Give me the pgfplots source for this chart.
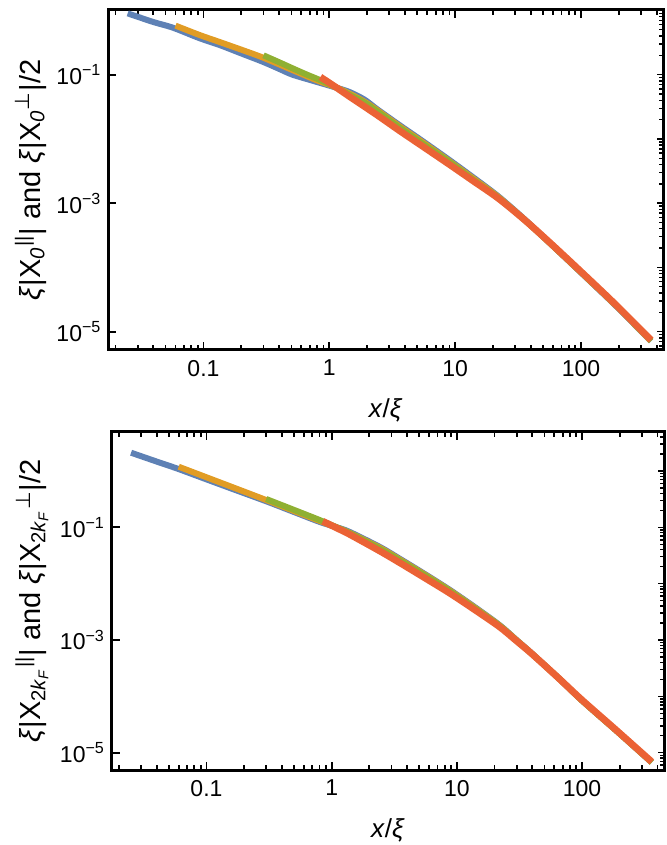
\documentclass[border=0pt]{standalone}
\usepackage{fontspec}
\setmainfont{Liberation Sans}
\newfontfamily\dejavu{DejaVu Sans}
\usepackage{pgfplots}
\pgfplotsset{compat=1.18}

\definecolor{mblue}{RGB}{94,129,181}
\definecolor{morange}{RGB}{225,156,36}
\definecolor{mgreen}{RGB}{143,176,50}
\definecolor{mred}{RGB}{235,98,53}

\newcommand{\tfont}{\fontsize{11.5}{13}\selectfont}
\newcommand{\xfont}{\fontsize{13}{15}\selectfont}
\newcommand{\yfont}{\fontsize{14.5}{17}\selectfont}

\begin{document}
\begin{tikzpicture}
\path[use as bounding box] (0,0) rectangle (333pt,422.5pt);

% ---- top panel ----
\begin{axis}[at={(54.25pt,247.5pt)}, anchor=south west,
  scale only axis, width=277.25pt, height=170pt,
  xmode=log, ymode=log,
  xmin=0.0176, xmax=448, ymin=5.19e-6, ymax=1.016,
  axis line style={line width=1.5pt},
  tick style={black, line width=0.9pt},
  major tick length=4pt, minor tick length=2.5pt, tick align=inside,
  xtick={0.1,1,10,100}, xticklabels={0.1,1,10,100},
  minor xtick={0.02,0.03,0.04,0.05,0.06,0.07,0.08,0.09,0.2,0.3,0.4,0.5,0.6,0.7,0.8,0.9,
    2,3,4,5,6,7,8,9,20,30,40,50,60,70,80,90,200,300,400},
  ytick={1e-5,1e-3,1e-1},
  yticklabels={10\textsuperscript{−5},10\textsuperscript{−3},10\textsuperscript{−1}},
  ytick pos=left,
  xticklabel style={font=\tfont, yshift=-1.5pt}, yticklabel style={font=\tfont},
  xlabel style={font=\xfont, at={(axis description cs:0.5,0)}, anchor=center, yshift=-30pt},
  ylabel style={font=\yfont, at={(axis description cs:0,0.5)}, anchor=center, yshift=39pt},
  xlabel={\textit{x}/\textit{ξ}},
  ylabel={\textit{ξ}|X\textsubscript{\textit{0}}\textsuperscript{||}| and \textit{ξ}|X\textsubscript{\textit{0}}\textsuperscript{\dejavu ⊥}|/2}]
\addplot[mblue, line width=3pt, smooth] coordinates {
(0.025,0.90) (0.04,0.66) (0.057,0.54) (0.093,0.37) (0.134,0.29) (0.2,0.214)
(0.296,0.159) (0.4,0.123) (0.51,0.10) (0.78,0.078) (1.1,0.064) (1.44,0.054)
(1.9,0.041) (2.4,0.029) (3.6,0.0165) (5.5,0.0093) (9,0.0047) (14,0.0025)
(22,0.00128) (35,0.00058) (55,0.000252) (100,8.3e-5) (190,2.5e-5) (360,7.1e-6)};
\addplot[morange, line width=3pt, smooth] coordinates {
(0.06,0.58) (0.093,0.415) (0.13,0.33) (0.2,0.245) (0.296,0.185) (0.5,0.12)
(0.78,0.083) (1.1,0.065) (1.44,0.051) (1.9,0.038) (2.4,0.028) (3.6,0.0158)
(5.5,0.0089) (9,0.0045) (14,0.0024) (22,0.00125) (35,0.00057) (55,0.000252)
(100,8.4e-5) (190,2.55e-5) (360,7.2e-6)};
\addplot[mgreen, line width=3pt, smooth] coordinates {
(0.3,0.20) (0.4,0.156) (0.5,0.128) (0.65,0.102) (0.85,0.082) (1.1,0.065)
(1.44,0.049) (1.9,0.037) (2.4,0.027) (3.6,0.0152) (5.5,0.0085) (9,0.0044)
(14,0.0023) (22,0.00122) (35,0.000565) (55,0.000252) (100,8.4e-5)
(190,2.55e-5) (360,7.2e-6)};
\addplot[mred, line width=3.4pt, smooth] coordinates {
(0.85,0.092) (1.1,0.066) (1.44,0.046) (2.4,0.0235) (3.6,0.0135) (5.5,0.0077)
(9,0.0040) (14,0.0022) (22,0.00119) (35,0.000565) (55,0.000256) (100,8.6e-5)
(190,2.6e-5) (360,7.4e-6)};
\end{axis}
% right-hand frame ticks (top panel)
\begin{axis}[at={(54.25pt,247.5pt)}, anchor=south west,
  scale only axis, width=277.25pt, height=170pt,
  xmode=log, ymode=log,
  xmin=0.0176, xmax=448, ymin=5.19e-6, ymax=1.016,
  axis line style={draw=none},
  tick style={black, line width=0.7pt},
  major tick length=3pt, minor tick length=2pt, tick align=inside,
  xtick=\empty, ytick pos=right, yticklabels={},
  ytick={1e-5,1e-4,1e-3,1e-2,1e-1},
  minor ytick={6e-6,7e-6,8e-6,9e-6,
    2e-5,3e-5,4e-5,5e-5,6e-5,7e-5,8e-5,9e-5,
    2e-4,3e-4,4e-4,5e-4,6e-4,7e-4,8e-4,9e-4,
    2e-3,3e-3,4e-3,5e-3,6e-3,7e-3,8e-3,9e-3,
    2e-2,3e-2,4e-2,5e-2,6e-2,7e-2,8e-2,9e-2,
    0.2,0.3,0.4,0.5,0.6,0.7,0.8,0.9}]
\end{axis}

% ---- bottom panel ----
\begin{axis}[at={(56pt,37.5pt)}, anchor=south west,
  scale only axis, width=276pt, height=169.15pt,
  xmode=log, ymode=log,
  xmin=0.0176, xmax=451, ymin=4.93e-6, ymax=4.98,
  axis line style={line width=1.5pt},
  tick style={black, line width=0.9pt},
  major tick length=4pt, minor tick length=2.5pt, tick align=inside,
  xtick={0.1,1,10,100}, xticklabels={0.1,1,10,100},
  minor xtick={0.02,0.03,0.04,0.05,0.06,0.07,0.08,0.09,0.2,0.3,0.4,0.5,0.6,0.7,0.8,0.9,
    2,3,4,5,6,7,8,9,20,30,40,50,60,70,80,90,200,300,400},
  ytick={1e-5,1e-3,1e-1},
  yticklabels={10\textsuperscript{−5},10\textsuperscript{−3},10\textsuperscript{−1}},
  ytick pos=left,
  xticklabel style={font=\tfont, yshift=-1.5pt}, yticklabel style={font=\tfont},
  xlabel style={font=\xfont, at={(axis description cs:0.5,0)}, anchor=center, yshift=-30pt},
  ylabel style={font=\yfont, at={(axis description cs:0,0.5)}, anchor=center, yshift=40pt},
  xlabel={\textit{x}/\textit{ξ}},
  ylabel={\textit{ξ}|X\textsubscript{2\textit{k}\textsubscript{\textit{F}}}\textsuperscript{||}| and \textit{ξ}|X\textsubscript{2\textit{k}\textsubscript{\textit{F}}}\textsuperscript{\dejavu ⊥}|/2}]
\addplot[mblue, line width=3pt, smooth] coordinates {
(0.025,2.11) (0.04,1.47) (0.058,1.11) (0.1,0.71) (0.17,0.46) (0.3,0.29)
(0.5,0.187) (0.8,0.125) (1.1,0.10) (1.39,0.083) (2.42,0.045) (3.5,0.0277)
(5.5,0.0150) (8.75,0.0078) (14,0.0038) (22,0.00183) (30,0.001) (40,0.00057)
(65,0.00021) (100,8.4e-5) (190,2.4e-5) (360,6.7e-6)};
\addplot[morange, line width=3pt, smooth] coordinates {
(0.06,1.19) (0.1,0.773) (0.17,0.494) (0.3,0.305) (0.5,0.195) (0.8,0.13)
(1.1,0.099) (1.39,0.08) (2.42,0.0435) (3.5,0.0268) (5.5,0.0146) (8.75,0.0076)
(14,0.0037) (22,0.0018) (30,0.00099) (40,0.000565) (65,0.00021) (100,8.4e-5)
(190,2.4e-5) (360,6.75e-6)};
\addplot[mgreen, line width=3pt, smooth] coordinates {
(0.3,0.318) (0.5,0.204) (0.8,0.135) (1.1,0.10) (1.39,0.079) (2.42,0.042)
(3.5,0.026) (5.5,0.0142) (8.75,0.0074) (14,0.0036) (22,0.00177) (30,0.00098)
(40,0.00056) (65,0.00021) (100,8.4e-5) (190,2.4e-5) (360,6.75e-6)};
\addplot[mred, line width=3.4pt, smooth] coordinates {
(0.85,0.128) (1.1,0.097) (1.39,0.075) (2.42,0.038) (3.5,0.0235) (5.5,0.0128)
(8.75,0.0068) (14,0.0034) (22,0.0017) (30,0.00096) (40,0.00056) (65,0.00021)
(100,8.6e-5) (190,2.45e-5) (360,6.9e-6)};
\end{axis}
% right-hand frame ticks (bottom panel)
\begin{axis}[at={(56pt,37.5pt)}, anchor=south west,
  scale only axis, width=276pt, height=169.15pt,
  xmode=log, ymode=log,
  xmin=0.0176, xmax=451, ymin=4.93e-6, ymax=4.98,
  axis line style={draw=none},
  tick style={black, line width=0.7pt},
  major tick length=3pt, minor tick length=2pt, tick align=inside,
  xtick=\empty, ytick pos=right, yticklabels={},
  ytick={1e-5,1e-4,1e-3,1e-2,1e-1,1},
  minor ytick={6e-6,7e-6,8e-6,9e-6,
    2e-5,3e-5,4e-5,5e-5,6e-5,7e-5,8e-5,9e-5,
    2e-4,3e-4,4e-4,5e-4,6e-4,7e-4,8e-4,9e-4,
    2e-3,3e-3,4e-3,5e-3,6e-3,7e-3,8e-3,9e-3,
    2e-2,3e-2,4e-2,5e-2,6e-2,7e-2,8e-2,9e-2,
    0.2,0.3,0.4,0.5,0.6,0.7,0.8,0.9,2,3,4}]
\end{axis}
\end{tikzpicture}
\end{document}
